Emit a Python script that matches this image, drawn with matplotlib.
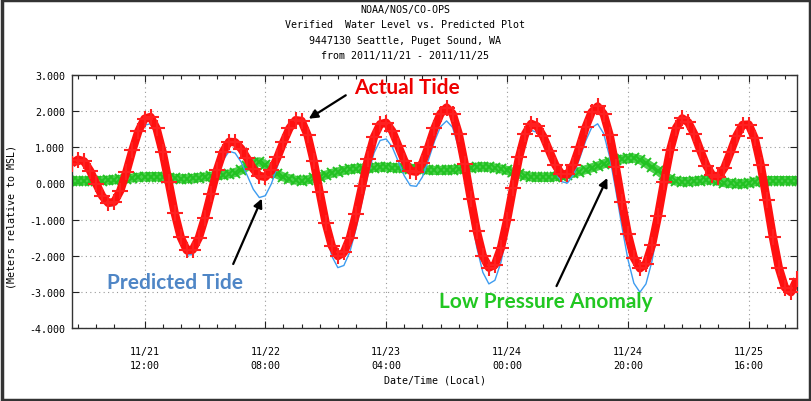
import numpy as np
import matplotlib
matplotlib.use('Agg')
import matplotlib.pyplot as plt
from matplotlib.patches import Rectangle

# hours since 2011/11/21 00:00, hourly readings
hours = np.arange(0, 121)

actual_tide = [
    0.55, 0.66, 0.61, 0.35, -0.01, -0.35, -0.54, -0.51, -0.20, 0.32,
    0.92, 1.45, 1.79, 1.84, 1.52, 0.87, 0.04, -0.82, -1.49, -1.85,
    -1.83, -1.50, -0.95, -0.29, 0.37, 0.88, 1.15, 1.14, 0.96, 0.69,
    0.40, 0.21, 0.18, 0.36, 0.72, 1.15, 1.53, 1.75, 1.73, 1.33,
    0.62, -0.25, -1.10, -1.73, -2.01, -1.91, -1.50, -0.85, -0.08, 0.68,
    1.29, 1.64, 1.68, 1.45, 1.04, 0.63, 0.35, 0.32, 0.57, 1.02,
    1.53, 1.93, 2.10, 1.93, 1.38, 0.54, -0.42, -1.32, -2.00, -2.33,
    -2.25, -1.78, -1.02, -0.12, 0.73, 1.37, 1.65, 1.58, 1.30, 0.90,
    0.51, 0.26, 0.25, 0.52, 1.01, 1.55, 1.97, 2.13, 1.92, 1.33,
    0.46, -0.51, -1.40, -2.06, -2.35, -2.22, -1.70, -0.89, 0.05, 0.92,
    1.54, 1.80, 1.69, 1.36, 0.91, 0.49, 0.22, 0.19, 0.44, 0.87,
    1.32, 1.62, 1.63, 1.25, 0.50, -0.47, -1.48, -2.34, -2.88, -3.01, -2.65,
]

predicted_tide = [
    0.48, 0.59, 0.54, 0.27, -0.09, -0.43, -0.63, -0.61, -0.31, 0.19,
    0.77, 1.28, 1.61, 1.65, 1.33, 0.70, -0.11, -0.96, -1.62, -1.98,
    -1.97, -1.66, -1.13, -0.49, 0.15, 0.64, 0.89, 0.84, 0.59, 0.22,
    -0.16, -0.39, -0.34, -0.01, 0.47, 0.97, 1.40, 1.66, 1.65, 1.23,
    0.48, -0.43, -1.33, -2.01, -2.33, -2.27, -1.89, -1.26, -0.50, 0.25,
    0.85, 1.19, 1.23, 1.01, 0.61, 0.21, -0.06, -0.08, 0.18, 0.65,
    1.17, 1.57, 1.73, 1.55, 0.99, 0.13, -0.85, -1.77, -2.46, -2.78,
    -2.68, -2.18, -1.38, -0.43, 0.47, 1.16, 1.47, 1.41, 1.13, 0.73,
    0.32, 0.05, 0.01, 0.24, 0.68, 1.17, 1.54, 1.65, 1.38, 0.73,
    -0.18, -1.18, -2.09, -2.76, -3.01, -2.78, -2.15, -1.24, -0.17, 0.80,
    1.48, 1.75, 1.64, 1.30, 0.83, 0.39, 0.12, 0.13, 0.42, 0.87,
    1.33, 1.63, 1.62, 1.21, 0.43, -0.55, -1.56, -2.42, -2.96, -3.09, -2.73,
]

anomaly = [
    0.07, 0.07, 0.07, 0.08, 0.08, 0.08, 0.09, 0.10, 0.11, 0.13,
    0.15, 0.17, 0.18, 0.19, 0.19, 0.17, 0.15, 0.14, 0.13, 0.13,
    0.14, 0.16, 0.18, 0.20, 0.22, 0.24, 0.26, 0.30, 0.37, 0.47,
    0.56, 0.60, 0.52, 0.37, 0.25, 0.18, 0.13, 0.09, 0.08, 0.10,
    0.14, 0.18, 0.23, 0.28, 0.32, 0.36, 0.39, 0.41, 0.42, 0.43,
    0.44, 0.45, 0.45, 0.44, 0.43, 0.42, 0.41, 0.40, 0.39, 0.37,
    0.36, 0.36, 0.37, 0.38, 0.39, 0.41, 0.43, 0.45, 0.46, 0.45,
    0.43, 0.40, 0.36, 0.31, 0.26, 0.21, 0.18, 0.17, 0.17, 0.17,
    0.19, 0.21, 0.24, 0.28, 0.33, 0.38, 0.43, 0.48, 0.54, 0.60,
    0.64, 0.67, 0.69, 0.70, 0.66, 0.56, 0.45, 0.35, 0.22, 0.12,
    0.06, 0.05, 0.05, 0.06, 0.08, 0.10, 0.10, 0.06, 0.02, 0.00,
    -0.01, -0.01, 0.01, 0.04, 0.07, 0.08, 0.08, 0.08, 0.08, 0.08, 0.08,
]

x_tick_labels = ['11/21\n12:00', '11/22\n08:00', '11/23\n04:00',
                 '11/24\n00:00', '11/24\n20:00', '11/25\n16:00']
y_tick_values = [-4, -3, -2, -1, 0, 1, 2, 3]
title_lines = ['NOAA/NOS/CO-OPS',
               'Verified  Water Level vs. Predicted Plot',
               '9447130 Seattle, Puget Sound, WA',
               'from 2011/11/21 - 2011/11/25']

mono = 'DejaVu Sans Mono'
W, H = 812, 402

fig = plt.figure(figsize=(W / 100, H / 100), dpi=100)
ax = fig.add_axes([72 / W, 1 - 329 / H, (797 - 72) / W, (329 - 76) / H])

# series
ax.plot(hours, anomaly, color='#2ec92e', lw=6.5, zorder=2, alpha=0.85,
        solid_capstyle='butt')
ax.plot(hours, anomaly, 'x', color='#22c222', ms=7.5, mew=1.4, zorder=2)
ax.plot(hours, predicted_tide, color='#3d9cf0', lw=1.0, zorder=3)
ax.plot(hours, actual_tide, color='#ff1010', lw=6, zorder=4,
        solid_capstyle='butt')
ax.plot(hours, actual_tide, '+', color='#ff2020', ms=11, mew=1.5, zorder=4)

# axes
ax.set_xlim(0, 120)
ax.set_ylim(-4, 3)
major_x = [12 + 20 * i for i in range(len(x_tick_labels))]
ax.set_xticks(major_x)
ax.set_xticklabels(x_tick_labels, fontfamily=mono, fontsize=7.2, linespacing=1.5)
minor_x = [m + 3 * k for m in [major_x[0] - 20] + major_x for k in range(1, 6)]
ax.set_xticks([t for t in minor_x if 0 < t < 120], minor=True)
ax.set_yticks(y_tick_values)
ax.set_yticklabels(['%.3f' % v for v in y_tick_values], fontfamily=mono, fontsize=7.2)
ax.tick_params(which='both', direction='in', top=True, right=True, width=0.8, color='#222222')
ax.tick_params(which='major', length=5, pad=5)
ax.tick_params(which='minor', length=3)
ax.tick_params(axis='x', which='major', pad=13)
ax.grid(True, which='major', linestyle=(0, (1, 3)), color='#999999', lw=0.8)
ax.set_axisbelow(True)
for s in ax.spines.values():
    s.set_color('#333333')
    s.set_linewidth(1.0)

# titles and labels
for i, line in enumerate(title_lines):
    fig.text(405 / W, 1 - (10 + 15.3 * i) / H, line, ha='center', va='center',
             fontfamily=mono, fontsize=7.2)
fig.text(12 / W, 1 - 217 / H, '(Meters relative to MSL)', rotation=90,
         ha='center', va='center', fontfamily=mono, fontsize=7.2)
fig.text(435 / W, 1 - 381 / H, 'Date/Time (Local)', ha='center', va='center',
         fontfamily=mono, fontsize=7.2)

# call-outs
arrow = dict(arrowstyle='-|>', color='black', lw=1.6, mutation_scale=13)
ax.text(55.5, 2.67, 'Actual Tide', color='#ee0000', fontsize=15,
        fontweight='bold', fontfamily='Lato', ha='center', va='center')
ax.annotate('', xy=(38.8, 1.75), xytext=(45.7, 2.48), arrowprops=arrow)
ax.text(17.0, -2.72, 'Predicted Tide', color='#4f86c6', fontsize=15,
        fontweight='bold', fontfamily='Lato', ha='center', va='center')
ax.annotate('', xy=(31.6, -0.35), xytext=(26.5, -2.30), arrowprops=arrow)
ax.text(78.5, -3.24, 'Low Pressure Anomaly', color='#22c722', fontsize=15,
        fontweight='bold', fontfamily='Lato', ha='center', va='center')
ax.annotate('', xy=(88.8, 0.22), xytext=(80.0, -2.91), arrowprops=arrow)

# outer frame
fig.patches.append(Rectangle((0.002, 0.003), 0.996, 0.994, transform=fig.transFigure,
                             fill=False, edgecolor='#333333', lw=2.5))

fig.savefig('out.png', dpi=100)
